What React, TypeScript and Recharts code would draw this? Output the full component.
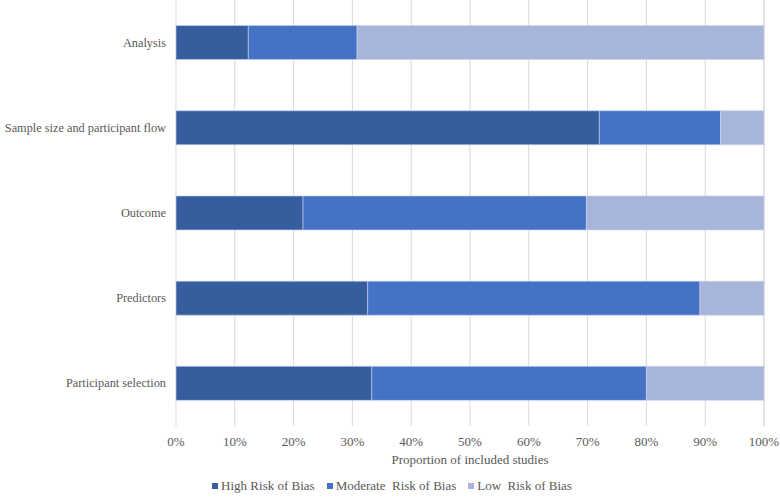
import React from "react";
import { BarChart, Bar, XAxis, YAxis, CartesianGrid, Legend } from "recharts";

// percentages, top to bottom
const domains = [
  "Analysis",
  "Sample size and participant flow",
  "Outcome",
  "Predictors",
  "Participant selection",
];
const highRisk = [12.3, 72.0, 21.6, 32.6, 33.3];
const moderateRisk = [18.5, 20.6, 48.2, 56.5, 46.7];
const lowRisk = [69.2, 7.4, 30.2, 10.9, 20.0];
const xTicks = [0, 10, 20, 30, 40, 50, 60, 70, 80, 90, 100];

const series = [
  { key: "high", label: "High Risk of Bias", color: "#365E9F" },
  { key: "moderate", label: "Moderate  Risk of Bias", color: "#4472C4" },
  { key: "low", label: "Low  Risk of Bias", color: "#A8B5DA" },
];

const data = domains.map((name, i) => ({
  name,
  high: highRisk[i],
  moderate: moderateRisk[i],
  low: lowRisk[i],
}));

const FONT = "'Liberation Serif', 'Times New Roman', serif";
const TEXT = "#595959";

const CategoryTick = (props: any) => {
  const { x, y, payload } = props;
  return (
    <text
      x={x - 2}
      y={y}
      dy={4}
      textAnchor="end"
      fill={TEXT}
      fontSize={12.3}
      fontFamily={FONT}
    >
      {payload.value}
    </text>
  );
};

const LegendRow = () => (
  <div
    style={{
      display: "flex",
      justifyContent: "center",
      gap: 12,
      fontFamily: FONT,
      fontSize: 13,
      color: TEXT,
      whiteSpace: "pre",
      paddingLeft: 20,
      paddingTop: 8,
    }}
  >
    {series.map((s) => (
      <span key={s.key} style={{ display: "flex", alignItems: "center" }}>
        <span
          style={{
            width: 6,
            height: 6,
            background: s.color,
            display: "inline-block",
            marginRight: 3,
          }}
        />
        {s.label}
      </span>
    ))}
  </div>
);

export default function App() {
  return (
    <div style={{ position: "absolute", left: 0, top: 0, background: "#fff" }}>
      <BarChart
        width={780}
        height={498}
        data={data}
        layout="vertical"
        barCategoryGap="30%"
        margin={{ top: 0, right: 16, left: 0, bottom: 0 }}
      >
        <CartesianGrid horizontal={false} stroke="#D9D9D9" />
        <XAxis
          type="number"
          domain={[0, 100]}
          ticks={xTicks}
          tickFormatter={(v) => `${v}%`}
          axisLine={false}
          tickLine={false}
          tickMargin={5}
          height={44}
          tick={{ fill: TEXT, fontSize: 13, fontFamily: FONT }}
          label={{
            value: "Proportion of included studies",
            position: "insideBottom",
            offset: 6,
            fill: TEXT,
            fontSize: 13,
            fontFamily: FONT,
          }}
        />
        <YAxis
          type="category"
          dataKey="name"
          width={176}
          axisLine={false}
          tickLine={false}
          tick={<CategoryTick />}
        />
        {series.map((s) => (
          <Bar
            key={s.key}
            dataKey={s.key}
            name={s.label}
            stackId="a"
            fill={s.color}
            stroke="#C9D3EC"
            strokeWidth={0.6}
            isAnimationActive={false}
          />
        ))}
        <Legend verticalAlign="bottom" height={28} content={() => <LegendRow />} />
      </BarChart>
    </div>
  );
}
